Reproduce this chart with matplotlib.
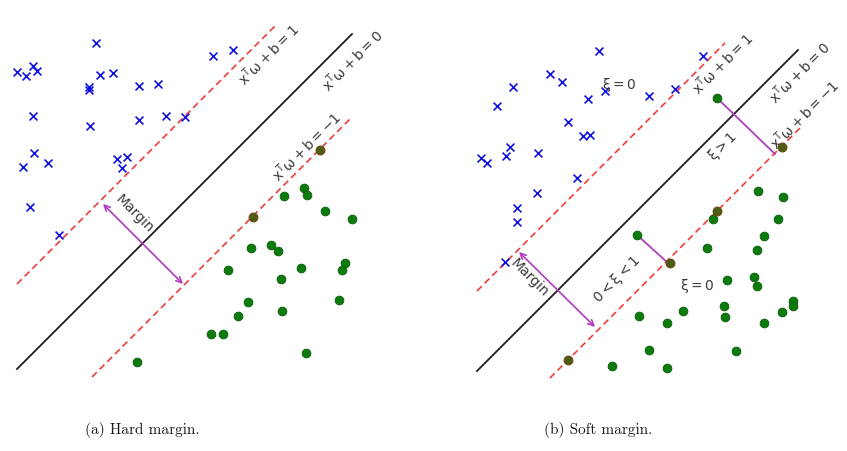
import numpy as np
import matplotlib
matplotlib.use("Agg")
import matplotlib.pyplot as plt

plt.rcParams["mathtext.default"] = "regular"

# both panels share one canvas; units are pixels, y grows downward
W, H = 847, 452

# --- (a) hard margin ---
a_neg_x = [96, 213, 233, 17, 26, 33, 37, 100, 113, 89, 89, 139, 158, 33, 90, 139, 166, 185,
           34, 23, 48, 117, 127, 122, 30, 59]
a_neg_y = [44, 57, 51, 73, 77, 67, 72, 76, 74, 88, 91, 87, 85, 117, 127, 121, 117, 118,
           154, 168, 164, 160, 158, 169, 208, 236]
a_pos_x = [284, 304, 307, 325, 352, 251, 271, 278, 228, 301, 345, 342, 281, 248, 282, 339,
           238, 211, 223, 306, 137]
a_pos_y = [197, 189, 196, 212, 220, 249, 246, 252, 271, 269, 264, 271, 280, 303, 312, 301,
           317, 335, 335, 354, 363]
a_sv_x = [320, 253]
a_sv_y = [151, 218]
a_sep = (387, 17, 352)      # x + y = c, x from .. to
a_up = (302, 17, 277)
a_lo = (470, 92, 352)
a_margin = ((103, 205), (183, 285))

# --- (b) soft margin ---
b_neg_x = [599, 703, 550, 562, 513, 497, 605, 588, 649, 675, 568, 583, 590, 481, 487, 510,
           506, 538, 577, 537, 517, 517, 505]
b_neg_y = [52, 57, 75, 83, 88, 107, 92, 100, 97, 90, 123, 137, 136, 159, 164, 148,
           157, 154, 179, 194, 209, 223, 263]
b_pos_x = [717, 758, 783, 713, 778, 764, 637, 707, 757, 727, 754, 757, 724, 725, 683, 639,
           667, 793, 793, 782, 764, 736, 649, 612, 667]
b_pos_y = [99, 192, 198, 220, 220, 237, 236, 249, 251, 281, 278, 287, 307, 318, 312, 317,
           324, 302, 307, 313, 324, 352, 351, 367, 369]
b_sv_x = [782, 717, 670, 568]
b_sv_y = [148, 212, 264, 361]
b_sep = (849, 477, 798)
b_up = (769, 477, 725)
b_lo = (929, 550, 800)
b_margin = ((519, 253), (595, 328))
b_slack = [((717, 99), (775, 155)), ((637, 236), (668, 264))]

fig = plt.figure(figsize=(W / 100, H / 100), dpi=100)
ax = fig.add_axes([0, 0, 1, 1])
ax.set_xlim(0, W)
ax.set_ylim(H, 0)
ax.axis("off")

TXT = "#3a3a3a"
PURPLE = "#b03cc0"


def hyperplane(line, **kw):
    c, x0, x1 = line
    xs = np.array([x0, x1])
    ax.plot(xs, c - xs, **kw)


def panel(neg_x, neg_y, pos_x, pos_y, sv_x, sv_y, sep, up, lo, margin):
    hyperplane(sep, color="#1e1e1e", lw=1.3, zorder=2)
    for ln in (up, lo):
        hyperplane(ln, color="#f03a3a", lw=1.2, ls=(0, (4, 2.5)), zorder=2)
    ax.scatter(neg_x, neg_y, marker="x", s=32, color="#1010e0", linewidths=1.2, zorder=3)
    ax.scatter(pos_x, pos_y, marker="o", s=40, color="#0a7a0a", edgecolors="#0b5e0b",
               linewidths=0.6, zorder=3)
    ax.scatter(sv_x, sv_y, marker="o", s=40, color="#4e5c12", edgecolors="#6a4a14",
               linewidths=0.8, zorder=4)
    ax.annotate("", xy=margin[0], xytext=margin[1],
                arrowprops=dict(arrowstyle="<->", color=PURPLE, lw=1.2,
                                shrinkA=0, shrinkB=0, mutation_scale=10), zorder=3)


panel(a_neg_x, a_neg_y, a_pos_x, a_pos_y, a_sv_x, a_sv_y, a_sep, a_up, a_lo, a_margin)
panel(b_neg_x, b_neg_y, b_pos_x, b_pos_y, b_sv_x, b_sv_y, b_sep, b_up, b_lo, b_margin)

for p, q in b_slack:
    ax.plot([p[0], q[0]], [p[1], q[1]], color=PURPLE, lw=1.3, zorder=2)

fs = 10
lab = dict(fontsize=fs, color=TXT, ha="center", va="center", rotation_mode="anchor")
ax.text(268, 55, r"$x^T\omega + b = 1$", rotation=45, **lab)
ax.text(352, 60, r"$x^T\omega + b = 0$", rotation=45, **lab)
ax.text(306, 146, r"$x^T\omega + b = -1$", rotation=45, **lab)
ax.text(134, 214, "Margin", rotation=-45, **lab)

ax.text(722, 64, r"$x^T\omega + b = 1$", rotation=45, **lab)
ax.text(799, 72, r"$x^T\omega + b = 0$", rotation=45, **lab)
ax.text(804, 114, r"$x^T\omega + b = -1$", rotation=45, **lab)
ax.text(529, 278, "Margin", rotation=-45, **lab)
ax.text(619, 85, r"$\xi = 0$", rotation=0, **lab)
ax.text(697, 286, r"$\xi = 0$", rotation=0, **lab)
ax.text(723, 146, r"$\xi > 1$", rotation=45, **lab)
ax.text(617, 279, r"$0 < \xi < 1$", rotation=45, **lab)

cap = dict(fontsize=11, color="#1a1a1a", ha="center", va="center", family="cmr10")
ax.text(142, 430, "(a) Hard margin.", **cap)
ax.text(598, 430, "(b) Soft margin.", **cap)

fig.savefig("out.png", dpi=100)
